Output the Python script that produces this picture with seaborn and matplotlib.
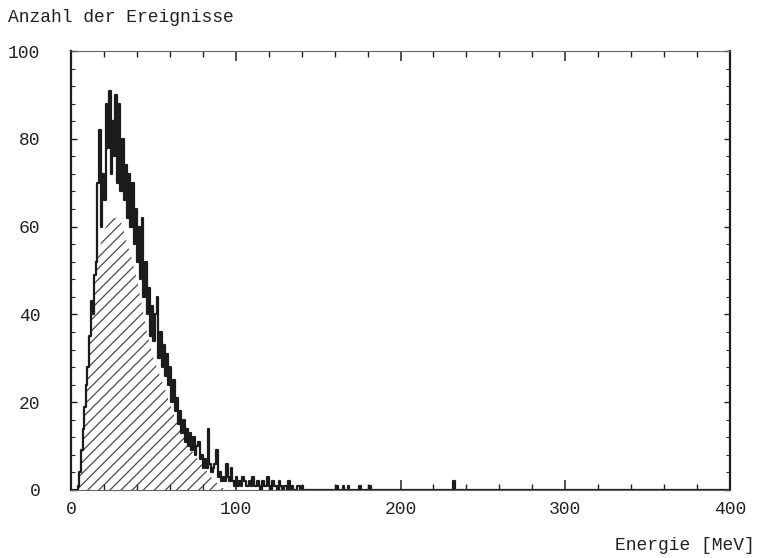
import numpy as np
import pandas as pd
import matplotlib
matplotlib.use("Agg")
import matplotlib.pyplot as plt
from matplotlib.ticker import MultipleLocator
import seaborn as sns

# ---- data ----
# measured histogram, 1 MeV bins starting at 0 MeV
counts_low = [0, 0, 0, 0, 1, 4, 9, 14, 19, 24,
              28, 35, 43, 40, 49, 52, 70, 82, 60, 72,
              66, 88, 78, 91, 72, 84, 76, 90, 70, 88,
              68, 80, 66, 74, 62, 72, 60, 70, 56, 64,
              52, 60, 48, 62, 44, 52, 40, 46, 35, 42,
              34, 40, 44, 30, 36, 28, 33, 26, 31, 24,
              28, 20, 25, 18, 21, 15, 18, 13, 16, 11,
              14, 10, 13, 9, 12, 8, 10, 11, 7, 8,
              5, 7, 5, 14, 6, 4, 5, 6, 9, 3,
              4, 2, 3, 2, 6, 3, 2, 5, 2, 1,
              3, 1, 2, 1, 3, 2, 1, 1, 2, 1,
              3, 1, 1, 2, 1, 0, 2, 1, 1, 3,
              1, 0, 2, 1, 1, 0, 2, 1, 0, 1,
              1, 0, 2, 0, 1, 0, 0, 1, 1, 0,
              1]
# isolated single entries in the tail (MeV, count)
tail_energy = [161, 165, 168, 175, 181, 232]
tail_count = [1, 1, 1, 1, 1, 2]

# hatched (expected / fitted) distribution
hatch_energy = [4, 6, 8, 10, 12, 14, 16, 18, 20, 22, 24, 26, 28, 30, 32, 34, 36,
                38, 40, 42, 44, 46, 48, 50, 52, 54, 56, 58, 60, 62, 64, 66, 68,
                70, 72, 74, 76, 78, 80, 82, 84, 86, 88, 90, 92, 94]
hatch_count = [0, 6, 17, 28, 38, 46, 52, 56, 59, 60.5, 61.5, 62, 62, 61.5, 59,
               56, 54, 51, 48, 44, 40, 36, 33, 30, 28, 26, 24, 22, 19.5, 17.5,
               15.5, 14, 12.5, 11, 10, 8.5, 7.5, 6.5, 5.5, 4.5, 3.5, 2.5, 1.8,
               1, 0.5, 0]

x_major = [0, 100, 200, 300, 400]
y_major = [0, 20, 40, 60, 80, 100]

# ---- build table ----
energies = list(np.arange(len(counts_low)) + 0.5) + [e + 0.5 for e in tail_energy]
weights = list(counts_low) + list(tail_count)
df = pd.DataFrame({"Energie": energies, "Anzahl": weights})

sns.set_style("ticks")
plt.rcParams["font.family"] = ["Liberation Mono", "DejaVu Sans Mono"]
plt.rcParams["hatch.linewidth"] = 0.9

fig = plt.figure(figsize=(7.62, 5.58), dpi=100)
ax = fig.add_axes([71 / 762, 1 - 490 / 558, (730 - 71) / 762, (490 - 51) / 558])

ax.fill_between(hatch_energy, hatch_count, 0, facecolor="none",
                edgecolor="#4a4a4a", hatch="///", linewidth=0)

sns.histplot(data=df, x="Energie", weights="Anzahl", binwidth=1,
             binrange=(0, 400), element="step", fill=False,
             color="#1c1c1c", linewidth=1.6, ax=ax)

ax.set_xlim(0, 400)
ax.set_ylim(0, 100)
ax.set_xlabel("")
ax.set_ylabel("")

ax.set_xticks(x_major)
ax.set_yticks(y_major)
ax.xaxis.set_minor_locator(MultipleLocator(20))
ax.yaxis.set_minor_locator(MultipleLocator(4))
ax.tick_params(which="both", direction="in", top=True, right=True,
               labelsize=13, colors="#222222")
ax.tick_params(axis="x", which="major", length=7, width=1.1, pad=8)
ax.tick_params(axis="x", which="minor", length=4, width=1.0)
ax.tick_params(axis="y", which="major", length=4, width=1.0, pad=22)
ax.tick_params(axis="y", which="minor", length=3, width=0.8)

for side in ("left", "right"):
    ax.spines[side].set_linewidth(1.6)
    ax.spines[side].set_color("#1c1c1c")
for side in ("top", "bottom"):
    ax.spines[side].set_linewidth(0.8)
    ax.spines[side].set_color("#666666")

fig.text(8 / 762, 1 - 18 / 558, "Anzahl der Ereignisse", fontsize=13,
         ha="left", va="center", color="#222222")
fig.text(755 / 762, 1 - 545 / 558, "Energie [MeV]", fontsize=13,
         ha="right", va="center", color="#222222")

fig.savefig("out.png", dpi=100, facecolor="white")
